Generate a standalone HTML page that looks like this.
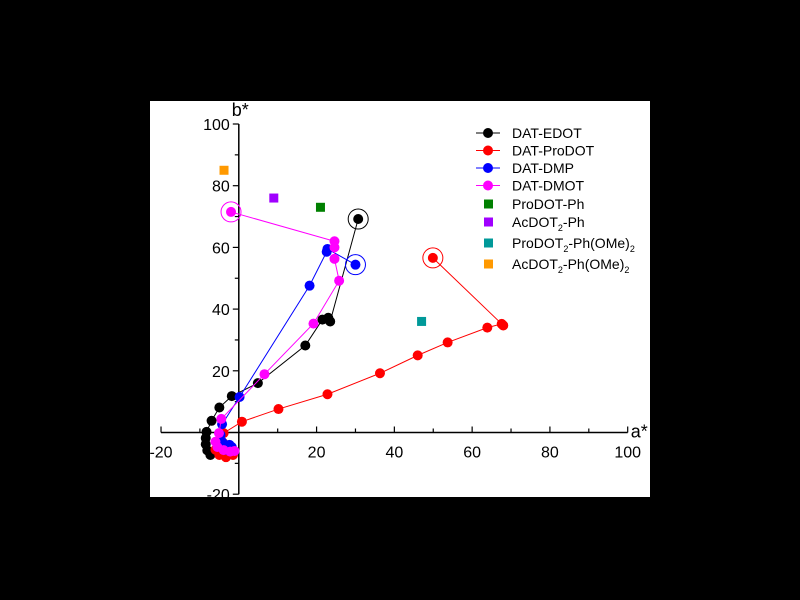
<!DOCTYPE html>
<html><head><meta charset="utf-8"><style>
body{margin:0;background:#000;width:800px;height:600px;overflow:hidden}
svg{display:block;font-family:"Liberation Sans",sans-serif}
</style></head><body>
<svg id="c" width="800" height="600">
<rect x="0" y="0" width="800" height="600" fill="#000"/>
<rect x="150" y="101" width="500" height="396" fill="#fff"/>
</svg>
<script>
const edotA=[30.7,23.5,23,21.5,17.1,4.9,-1.8,-5,-7,-8.3,-8.5,-8.5,-8.1,-7.3];
const edotB=[69.2,36,37.2,36.6,28.2,16,11.8,8.1,3.8,0.2,-1.8,-3.8,-5.8,-7.3];
const prodotA=[49.9,68,67.6,63.9,53.7,46,36.3,22.8,10.2,0.8,-3.9,-4,-6,-5,-3.3,-1.5];
const prodotB=[56.6,34.7,35.2,34,29.2,25,19.2,12.4,7.6,3.5,-0.2,-3.4,-5.6,-7.3,-8,-7.3];
const dmpA=[30,22.8,22.6,18.2,0.2,-4.3,-4.7,-4.3,-2.4,-1.8,-3];
const dmpB=[54.4,59.5,58.6,47.6,11.5,2.7,-0.8,-3,-4,-4.7,-5.7];
const dmotA=[-2,24.6,24.6,24.6,25.8,19.2,6.6,-4.5,-5.1,-6,-5.5,-3.9,-2.2,-1.1];
const dmotB=[71.5,62,60,56.3,49.2,35.3,18.9,4.4,-0.2,-3,-4.7,-5.7,-6.2,-6];
const sqNames=["ProDOT-Ph","AcDOT2-Ph","ProDOT2-Ph(OMe)2","AcDOT2-Ph(OMe)2"];
const sqA=[21,9,47,-3.8];
const sqB=[73,76,36,85];
const xTicks=[-20,20,40,60,80,100];
const yTicks=[-20,20,40,60,80,100];

const svg=document.getElementById('c');const NS='http://www.w3.org/2000/svg';
const X=a=>238.8+a*3.889, Y=b=>432.5-b*3.085;
function el(t,at,p){const e=document.createElementNS(NS,t);for(const k in at)e.setAttribute(k,at[k]);(p||svg).appendChild(e);return e;}
// axes
const ax=el('g',{});


el('line',{x1:X(-20),x2:X(100),y1:Y(0),y2:Y(0),stroke:'#000','stroke-width':1.5},ax);
el('line',{x1:X(0),x2:X(0),y1:Y(100),y2:Y(-20),stroke:'#000','stroke-width':1.5},ax);
for(let v=-20;v<=100;v+=10){if(v===0)continue;
 el('line',{x1:X(v),x2:X(v),y1:Y(0),y2:Y(0)-(v%20===0?6:4),stroke:'#000','stroke-width':1.2},ax);
 el('line',{x1:X(0),x2:X(0)-(v%20===0?6:4),y1:Y(v),y2:Y(v),stroke:'#000','stroke-width':1.2},ax);}
xTicks.forEach(v=>{const t=el('text',{x:X(v),y:Y(0)+25,'text-anchor':'middle','font-size':16},ax);t.textContent=v;
 
 });
yTicks.forEach(v=>{const t=el('text',{x:X(0)-9,y:Y(v)+6,'text-anchor':'end','font-size':16},ax);t.textContent=v;
 
 });
const xt=el('text',{x:X(100)+3,y:Y(0)+5,'font-size':18},ax);xt.textContent='a*';


const yt=el('text',{x:X(0)-7,y:Y(100)-8,'font-size':18},ax);yt.textContent='b*';



function series(A,B,col,name){const g=el('g',{});
 
 
 el('polyline',{points:A.map((a,i)=>X(a)+','+Y(B[i])).join(' '),fill:'none',stroke:col,'stroke-width':1},g);
 el('circle',{cx:X(A[0]),cy:Y(B[0]),r:10,fill:'none',stroke:col,'stroke-width':1},g);
 A.forEach((a,i)=>{const c=el('circle',{cx:X(a),cy:Y(B[i]),r:5,fill:col},g);
  
  });}
series(edotA,edotB,'#000','dat-edot');
series(prodotA,prodotB,'#f00','dat-prodot');
series(dmpA,dmpB,'#00f','dat-dmp');
series(dmotA,dmotB,'#f0f','dat-dmot');
const sqCol=['#008000','#a000ff','#009999','#ff9900'];
sqA.forEach((a,i)=>{const r=el('rect',{x:X(a)-4.5,y:Y(sqB[i])-4.5,width:9,height:9,fill:sqCol[i]});
 
 });
// legend
const lg=el('g',{});


const ln=[['DAT-EDOT','#000'],['DAT-ProDOT','#f00'],['DAT-DMP','#00f'],['DAT-DMOT','#f0f']];
ln.forEach((d,i)=>{const y=133+i*17.5;
 el('line',{x1:476,x2:500,y1:y,y2:y,stroke:d[1]},lg);el('circle',{cx:488,cy:y,r:5,fill:d[1]},lg);
 const t=el('text',{x:512,y:y+5,'font-size':14},lg);t.textContent=d[0];
 
 });
const sl=[['ProDOT-Ph',''],['AcDOT','-Ph'],['ProDOT','-Ph(OMe)'],['AcDOT','-Ph(OMe)']];
const sy=[204,222,243,264];
sl.forEach((d,i)=>{const y=sy[i];
 el('rect',{x:484,y:y-4.5,width:9,height:9,fill:sqCol[i]},lg);
 const t=el('text',{x:512,y:y+5,'font-size':14},lg);
 
 
 if(i===0){t.textContent=d[0];return;}
 t.appendChild(document.createTextNode(d[0]));
 const s=el('tspan',{'font-size':9,dy:4},t);s.textContent='2';
 const u=el('tspan',{dy:-4},t);u.textContent=d[1];
 if(i>=2){const s2=el('tspan',{'font-size':9,dy:4},t);s2.textContent='2';}
});
</script>
</body></html>
